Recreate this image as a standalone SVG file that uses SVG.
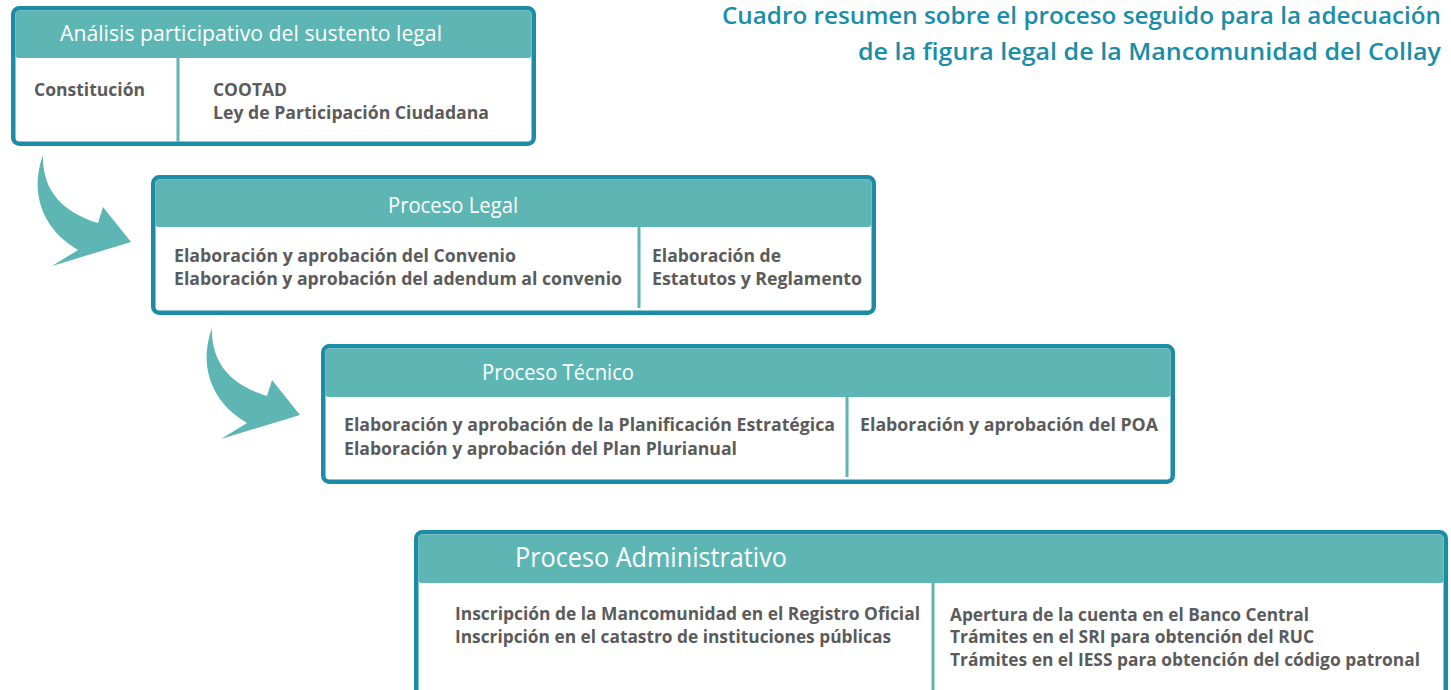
<svg xmlns="http://www.w3.org/2000/svg" width="1451" height="690" viewBox="0 0 1451 690">
<style>
.box{fill:#ffffff;stroke:#1b8ba6;stroke-width:4.5}
.hdr{fill:#5db6b3}
.div{stroke:#5db6b3;stroke-width:3}
.ht{font-family:"Open Sans","Liberation Sans",sans-serif;font-size:21px;fill:#ffffff}
.bt{font-family:"Open Sans","Liberation Sans",sans-serif;font-size:17px;font-weight:700;fill:#5b5b5b}
.tt{font-family:"Open Sans","Liberation Sans",sans-serif;font-size:23px;font-weight:600;fill:#1a8da8}
.arr{fill:#5db6b3}
</style>
<defs>
<path id="curveArrow" d="M43,155 C30,190 40,228 78,250 L52,266 L131,242 L103,207 L98,223 C62,212 42,190 43,155 Z"/>
</defs>
<g id="title">
<text class="tt" x="1441" y="24" text-anchor="end" textLength="719" lengthAdjust="spacingAndGlyphs">Cuadro resumen sobre el proceso seguido para la adecuación</text>
<text class="tt" x="1441" y="60" text-anchor="end" textLength="583" lengthAdjust="spacingAndGlyphs">de la figura legal de la Mancomunidad del Collay</text>
</g>
<g id="connectors">
<use href="#curveArrow" class="arr"/>
<use href="#curveArrow" class="arr" transform="translate(169,173)"/>
</g>
<g id="node-analisis">
<rect class="box" x="13.25" y="8.25" width="520.5" height="135.5" rx="6"/>
<rect class="hdr" x="15.5" y="10.5" width="516" height="47.5" rx="3"/>
<line class="div" x1="178" y1="58" x2="178" y2="141.5"/>
<text class="ht" x="60" y="41" textLength="382" lengthAdjust="spacingAndGlyphs">Análisis participativo del sustento legal</text>
<text class="bt" x="34" y="96" textLength="111" lengthAdjust="spacingAndGlyphs">Constitución</text>
<text class="bt" x="213" y="96" textLength="74" lengthAdjust="spacingAndGlyphs">COOTAD</text>
<text class="bt" x="213" y="119" textLength="276" lengthAdjust="spacingAndGlyphs">Ley de Participación Ciudadana</text>
</g>
<g id="node-legal">
<rect class="box" x="153.25" y="177.25" width="720.5" height="135.5" rx="6"/>
<rect class="hdr" x="155.5" y="179.5" width="716" height="47.5" rx="3"/>
<line class="div" x1="639" y1="227" x2="639" y2="308"/>
<text class="ht" x="388" y="213" textLength="130" lengthAdjust="spacingAndGlyphs">Proceso Legal</text>
<text class="bt" x="174" y="262" textLength="342" lengthAdjust="spacingAndGlyphs">Elaboración y aprobación del Convenio</text>
<text class="bt" x="174" y="285" textLength="448" lengthAdjust="spacingAndGlyphs">Elaboración y aprobación del adendum al convenio</text>
<text class="bt" x="652" y="262" textLength="129" lengthAdjust="spacingAndGlyphs">Elaboración de</text>
<text class="bt" x="652" y="285" textLength="210" lengthAdjust="spacingAndGlyphs">Estatutos y Reglamento</text>
</g>
<g id="node-tecnico">
<rect class="box" x="323.25" y="346.25" width="849.5" height="135.5" rx="6"/>
<rect class="hdr" x="325.5" y="348.5" width="845" height="48.5" rx="3"/>
<line class="div" x1="847" y1="397" x2="847" y2="477"/>
<text class="ht" x="482" y="380" textLength="152" lengthAdjust="spacingAndGlyphs">Proceso Técnico</text>
<text class="bt" x="344" y="431" textLength="491" lengthAdjust="spacingAndGlyphs">Elaboración y aprobación de la Planificación Estratégica</text>
<text class="bt" x="344" y="455" textLength="393" lengthAdjust="spacingAndGlyphs">Elaboración y aprobación del Plan Plurianual</text>
<text class="bt" x="860" y="431" textLength="298" lengthAdjust="spacingAndGlyphs">Elaboración y aprobación del POA</text>
</g>
<g id="node-administrativo">
<rect class="box" x="416.25" y="532.25" width="1029.5" height="170" rx="6"/>
<rect class="hdr" x="418.5" y="534.5" width="1025" height="48.5" rx="3"/>
<line class="div" x1="933" y1="583" x2="933" y2="690"/>
<text class="ht" x="515" y="567" style="font-size:27px" textLength="272" lengthAdjust="spacingAndGlyphs">Proceso Administrativo</text>
<text class="bt" x="455" y="620" textLength="465" lengthAdjust="spacingAndGlyphs">Inscripción de la Mancomunidad en el Registro Oficial</text>
<text class="bt" x="455" y="643" textLength="436" lengthAdjust="spacingAndGlyphs">Inscripción en el catastro de instituciones públicas</text>
<text class="bt" x="950" y="621" textLength="359" lengthAdjust="spacingAndGlyphs">Apertura de la cuenta en el Banco Central</text>
<text class="bt" x="950" y="643" textLength="364" lengthAdjust="spacingAndGlyphs">Trámites en el SRI para obtención del RUC</text>
<text class="bt" x="950" y="666" textLength="470" lengthAdjust="spacingAndGlyphs">Trámites en el IESS para obtención del código patronal</text>
</g>
</svg>
